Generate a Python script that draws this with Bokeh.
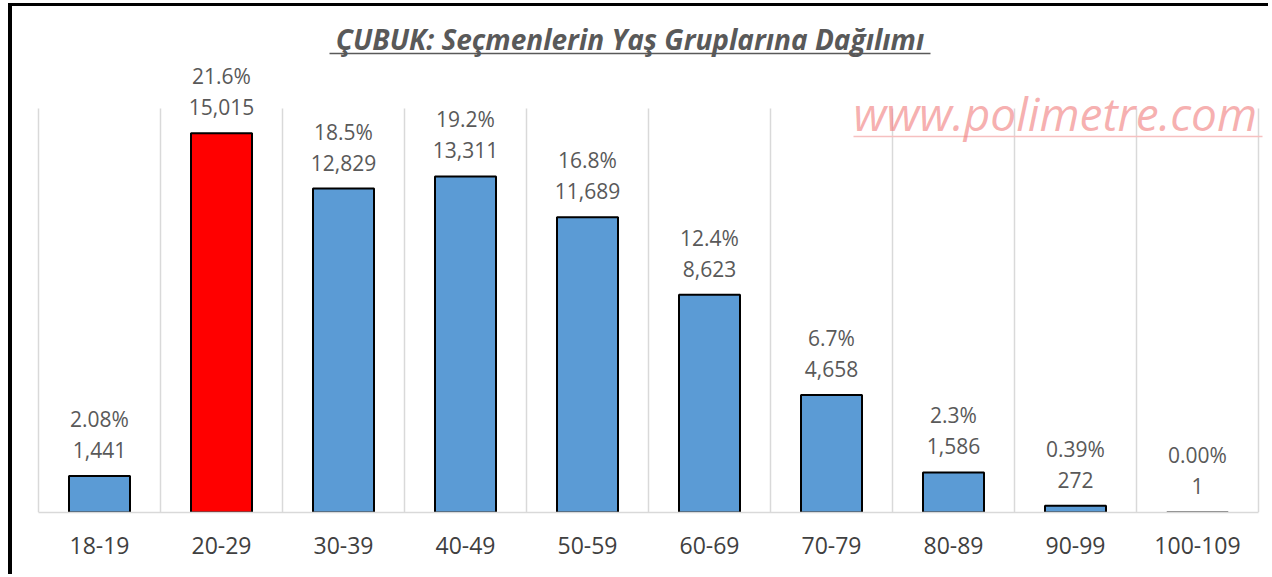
from bokeh.plotting import figure
from bokeh.models import Range1d, FixedTicker, ColumnDataSource, Label
from bokeh.core.properties import value
from bokeh.embed import file_html
from bokeh.resources import INLINE

# ---------------- data ----------------
categories = ["18-19", "20-29", "30-39", "40-49", "50-59",
              "60-69", "70-79", "80-89", "90-99", "100-109"]
counts = [1441, 15015, 12829, 13311, 11689, 8623, 4658, 1586, 272, 1]
percents = ["2.08%", "21.6%", "18.5%", "19.2%", "16.8%",
            "12.4%", "6.7%", "2.3%", "0.39%", "0.00%"]
highlight = "20-29"
title_text = "ÇUBUK: Seçmenlerin Yaş Gruplarına Dağılımı"
watermark = "www.polimetre.com"
y_max = 16000

# ---------------- layout (page pixels) ----------------
MARGIN_L, MARGIN_T = 8, 3
BORDER_L, BORDER_T = 4, 3
CANVAS_LEFT, CANVAS_TOP = MARGIN_L + BORDER_L, MARGIN_T + BORDER_T
W, H = 1272 - CANVAS_LEFT, 577 - CANVAS_TOP
PLOT_L, PLOT_R, PLOT_T, PLOT_B = 38, 1258, 108, 512

n = len(categories)
ppx = (PLOT_R - PLOT_L) / n
ppy = (PLOT_B - PLOT_T) / y_max
x_start = -(PLOT_L - CANVAS_LEFT) / ppx
x_end = n + (CANVAS_LEFT + W - PLOT_R) / ppx
y_end = (PLOT_B - CANVAS_TOP) / ppy


def px_x(px):
    return (px - PLOT_L) / ppx


def px_y(py):
    return (PLOT_B - py) / ppy


p = figure(width=W, height=H, output_backend="svg", toolbar_location=None,
           x_range=Range1d(x_start, x_end), y_range=Range1d(0, y_end),
           y_axis_location=None,
           min_border_left=0, min_border_right=0, min_border_top=0,
           min_border_bottom=CANVAS_TOP + H - PLOT_B)
p.styles = {"margin-left": f"{MARGIN_L}px", "margin-top": f"{MARGIN_T}px",
            "border-left": f"{BORDER_L}px solid black",
            "border-top": f"{BORDER_T}px solid black"}
p.outline_line_color = None
p.background_fill_color = "white"
p.border_fill_color = "white"
p.xgrid.visible = False
p.ygrid.visible = False

# category boundary grid lines
bounds = list(range(n + 1))
p.segment(x0=bounds, y0=[0] * len(bounds), x1=bounds, y1=[y_max] * len(bounds),
          line_color="#D9D9D9", line_width=1.5)

centers = [i + 0.5 for i in range(n)]
colors = ["#FF0000" if c == highlight else "#5B9BD5" for c in categories]
src = ColumnDataSource(dict(x=centers, top=counts, color=colors, pct=percents,
                            cnt=[f"{c:,}" for c in counts]))
p.vbar(x="x", top="top", width=0.5, fill_color="color", line_color="black",
       line_width=2, source=src)

p.text(x="x", y="top", text="cnt", y_offset=-26, text_align="center",
       text_baseline="middle", text_font=value("Open Sans"),
       text_font_size="21px", text_color="#595959", source=src)
p.text(x="x", y="top", text="pct", y_offset=-57, text_align="center",
       text_baseline="middle", text_font=value("Open Sans"),
       text_font_size="21px", text_color="#595959", source=src)

# x axis
ax = p.xaxis[0]
ax.ticker = FixedTicker(ticks=centers)
ax.major_label_overrides = {c: lab for c, lab in zip(centers, categories)}
ax.bounds = (0, n)
ax.axis_line_color = "#D9D9D9"
ax.axis_line_width = 1.5
ax.major_tick_line_color = None
ax.minor_tick_line_color = None
ax.major_label_text_font = "Open Sans"
ax.major_label_text_font_size = "23px"
ax.major_label_text_color = "#404040"
ax.major_label_standoff = 18

# title with underline
p.add_layout(Label(x=px_x(629.5), y=px_y(38), text=title_text,
                   text_align="center", text_baseline="middle",
                   text_font="Open Sans", text_font_size="28px",
                   text_font_style="bold italic", text_color="#595959"))
p.segment(x0=[px_x(329)], y0=[px_y(53)], x1=[px_x(930)], y1=[px_y(53)],
          line_color="#595959", line_width=1.5)

# watermark
p.add_layout(Label(x=px_x(853), y=px_y(112), text=watermark,
                   text_align="left", text_baseline="alphabetic",
                   text_font="Open Sans", text_font_size="46px",
                   text_font_style="italic", text_color="#F07A7A",
                   text_alpha=0.6))
p.segment(x0=[px_x(853)], y0=[px_y(136)], x1=[px_x(1262)], y1=[px_y(136)],
          line_color="#F6C0C0", line_width=1.5)

open("out.html", "w").write(file_html(p, INLINE))
